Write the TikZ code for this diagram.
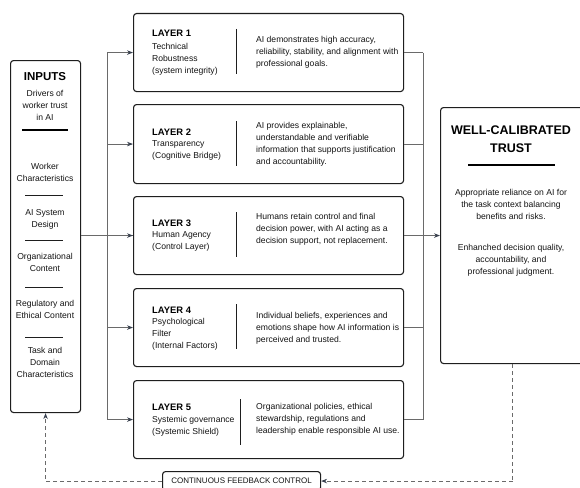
\documentclass[tikz,border=0pt]{standalone}
\usepackage{fontspec}
\setmainfont{Liberation Sans}
\usetikzlibrary{arrows.meta}
\definecolor{boxline}{HTML}{1E1E1E}
\definecolor{connline}{HTML}{6A6A6A}
\definecolor{tipcol}{HTML}{3A4250}
\begin{document}
\begin{tikzpicture}[x=1pt,y=-1pt,
  box/.style={draw=boxline,line width=1.1pt,rounded corners=3pt,fill=white,inner sep=0pt},
  body/.style={inner sep=0pt,font=\fontsize{8.6}{12}\selectfont,text=black!92},
  head/.style={inner sep=0pt,font=\fontsize{9.4}{12}\selectfont\bfseries},
  conn/.style={draw=connline,line width=0.8pt},
  tip/.style={-{Stealth[length=6pt,width=4.5pt,color=tipcol]}},
  fbline/.style={draw=connline,line width=0.8pt,dash pattern=on 4pt off 3pt},
  rule/.style={draw=boxline,line width=0.8pt},
  thickrule/.style={draw=black,line width=2.4pt}]
\useasboundingbox (0,0) rectangle (580,487);

% layer boxes
\node[box,anchor=north west,minimum width=270pt,minimum height=78pt] (l1) at (133,13) {};
\node[box,anchor=north west,minimum width=270pt,minimum height=79pt] (l2) at (133,104) {};
\node[box,anchor=north west,minimum width=270pt,minimum height=78pt] (l3) at (133,196) {};
\node[box,anchor=north west,minimum width=270pt,minimum height=78pt] (l4) at (133,288) {};
\node[box,anchor=north west,minimum width=270pt,minimum height=78pt] (l5) at (133,380) {};

% inputs and trust boxes
\node[box,anchor=north west,minimum width=70pt,minimum height=352pt] (in) at (10,60) {};
\node[box,anchor=north west,minimum width=150pt,minimum height=256pt] (trust) at (440,107) {};
\node[box,anchor=north west,minimum width=158pt,minimum height=19pt] (fb) at (162,471) {};
\node[body,font=\fontsize{8}{10}\selectfont] (fbt) at (fb.center) {CONTINUOUS FEEDBACK CONTROL};

% left connectors
\coordinate (tl1) at ([xshift=-26pt]l1.west);
\coordinate (tl5) at ([xshift=-26pt]l5.west);
\draw[conn] (tl1) -- (tl5);
\draw[conn] (in.east |- l3.west) -- (l3.west);
\foreach \n in {l1,l2,l3,l4,l5}{\draw[conn,tip] ([xshift=-26pt]\n.west) -- (\n.west);}

% right connectors
\coordinate (tr1) at ([xshift=19pt]l1.east);
\coordinate (tr5) at ([xshift=19pt]l5.east);
\draw[conn] (tr1) -- (tr5);
\foreach \n in {l1,l2,l3,l4,l5}{\draw[conn] (\n.east) -- ([xshift=19pt]\n.east);}
\draw[conn,tip] (l3.east) -- (trust.west |- l3.east);

% feedback loop
\coordinate (fbtop) at ([xshift=-3pt]trust.south);
\coordinate (fbcorner) at (fbtop |- fb.east);
\draw[fbline] (fbtop) -- (fbcorner);
\draw[fbline,tip] (fbcorner) -- (fb.east);
\draw[fbline,tip] (fb.west) -| (in.south);

% layer texts
\node[head,anchor=west] (h1) at (152,33) {LAYER 1};
\node[body,anchor=west,align=left] (s1) at (152,59.5) {Technical\\Robustness\\(system integrity)};
\node[body,anchor=west,align=left] (d1) at (256,52.5) {AI demonstrates high accuracy,\\reliability, stability, and alignment with\\professional goals.};
\draw[rule] (236,29) coordinate (v1a) -- (236,74) coordinate (v1b);

\node[head,anchor=west] (h2) at (152,132) {LAYER 2};
\node[body,anchor=west,align=left] (s2) at (152,150.5) {Transparency\\(Cognitive Bridge)};
\node[body,anchor=west,align=left] (d2) at (256,144.5) {AI provides explainable,\\understandable and verifiable\\information that supports justification\\and accountability.};
\draw[rule] (236,121) coordinate (v2a) -- (236,166) coordinate (v2b);

\node[head,anchor=west] (h3) at (152,223) {LAYER 3};
\node[body,anchor=west,align=left] (s3) at (152,241.5) {Human Agency\\(Control Layer)};
\node[body,anchor=west,align=left] (d3) at (256,229) {Humans retain control and final\\decision power, with AI acting as a\\decision support, not replacement.};
\draw[rule] (236,212) coordinate (v3a) -- (236,257) coordinate (v3b);

\node[head,anchor=west] (h4) at (152,310) {LAYER 4};
\node[body,anchor=west,align=left] (s4) at (152,334.5) {Psychological\\Filter\\(Internal Factors)};
\node[body,anchor=west,align=left] (d4) at (256,328.5) {Individual beliefs, experiences and\\emotions shape how AI information is\\perceived and trusted.};
\draw[rule] (236,304) coordinate (v4a) -- (236,349) coordinate (v4b);

\node[head,anchor=west] (h5) at (152,407) {LAYER 5};
\node[body,anchor=west,align=left] (s5) at (152,426.5) {Systemic governance\\(Systemic Shield)};
\node[body,anchor=west,align=left] (d5) at (256,419.5) {Organizational policies, ethical\\stewardship, regulations and\\leadership enable responsible AI use.};
\draw[rule] (240,399) coordinate (v5a) -- (240,445) coordinate (v5b);

% inputs texts
\node[head,font=\fontsize{11.5}{12}\selectfont\bfseries] (inh) at (45,77) {INPUTS};
\node[body,align=center] (ins) at (45,105.5) {Drivers of\\worker trust\\in AI};
\draw[thickrule] (22,130) coordinate (ir0a) -- (68,130) coordinate (ir0b);
\node[body,align=center] (i1) at (45,172) {Worker\\Characteristics};
\draw[rule] (25,195) coordinate (ir1a) -- (63,195) coordinate (ir1b);
\node[body,align=center] (i2) at (45,219.5) {AI System\\Design};
\draw[rule] (25,240) coordinate (ir2a) -- (63,240) coordinate (ir2b);
\node[body,align=center] (i3) at (45,262) {Organizational\\Content};
\draw[rule] (25,287) coordinate (ir3a) -- (63,287) coordinate (ir3b);
\node[body,align=center] (i4) at (45,309.5) {Regulatory and\\Ethical Content};
\draw[rule] (25,337) coordinate (ir4a) -- (63,337) coordinate (ir4b);
\node[body,align=center] (i5) at (45,362.5) {Task and\\Domain\\Characteristics};

% trust texts
\node[head,align=center,font=\fontsize{12.5}{18}\selectfont\bfseries] (th) at (511,139.5) {WELL-CALIBRATED\\TRUST};
\draw[thickrule] (468,165) coordinate (tr0a) -- (555,165) coordinate (tr0b);
\node[body,align=center] (t1) at (511,204.5) {Appropriate reliance on AI for\\the task context balancing\\benefits and risks.};
\node[body,align=center] (t2) at (511,260.5) {Enhanched decision quality,\\accountability, and\\professional judgment.};
\end{tikzpicture}
\end{document}
